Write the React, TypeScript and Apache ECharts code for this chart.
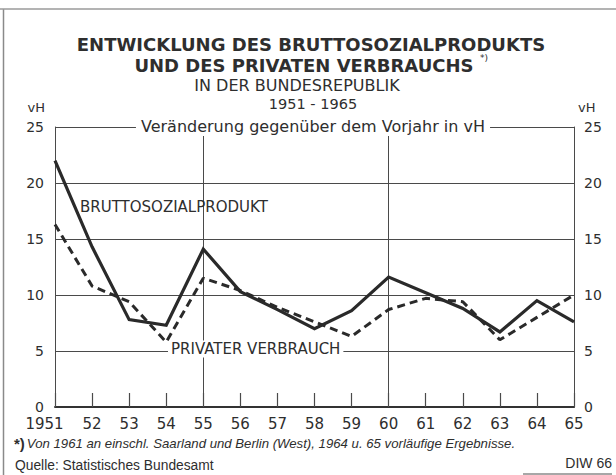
import React, { useEffect, useRef } from 'react';
import * as echarts from 'echarts';

const years = ['1951', '52', '53', '54', '55', '56', '57', '58', '59', '60', '61', '62', '63', '64', '65'];
const bruttosozialprodukt = [22.0, 14.3, 7.8, 7.3, 14.1, 10.3, 8.7, 7.0, 8.6, 11.6, 10.2, 8.8, 6.7, 9.5, 7.6];
const privaterVerbrauch = [16.3, 10.8, 9.4, 5.8, 11.5, 10.4, 8.9, 7.6, 6.3, 8.7, 9.7, 9.4, 6.0, 8.0, 10.0];
const yMin = 0;
const yMax = 25;
const yStep = 5;
const verticalGridYears = ['55', '60'];

const FONT = '"DejaVu Sans", sans-serif';
const FONT2 = '"Liberation Sans", Arial, sans-serif';
const INK = '#2e2e2e';
const GRID = '#4a4a4a';

export default function App() {
  const ref = useRef<HTMLDivElement>(null);
  useEffect(() => {
    const chart = echarts.init(ref.current!, null, { renderer: 'svg' });
    const txt = (text: string, x: number, y: number, size: number, extra: any = {}, z = 1) => ({
      type: 'text',
      z,
      style: {
        text,
        x,
        y,
        fill: INK,
        fontFamily: FONT,
        fontSize: size,
        textAlign: 'center',
        textVerticalAlign: 'middle',
        ...extra,
      },
    });
    chart.setOption({
      animation: false,
      backgroundColor: '#ffffff',
      textStyle: { fontFamily: FONT, color: INK },
      grid: { left: 55, right: 42, top: 127, bottom: 68, containLabel: false },
      xAxis: {
        type: 'category',
        data: years,
        boundaryGap: false,
        axisLine: { show: true, lineStyle: { color: '#333', width: 2 } },
        axisTick: { show: true, inside: true, length: 14, interval: 0, lineStyle: { color: GRID, width: 1.2 } },
        axisLabel: {
          interval: 0,
          hideOverlap: false,
          color: INK,
          fontSize: 15,
          fontFamily: FONT,
          margin: 9,
          formatter: (v: string, i: number) => (i === 0 ? '{f|' + v + '}' : v),
          rich: { f: { fontSize: 15, fontFamily: FONT, color: INK, padding: [0, 21, 0, 0] } },
        },
        splitLine: {
          show: true,
          interval: (i: number, v: string) => verticalGridYears.indexOf(String(v)) >= 0,
          lineStyle: { color: GRID, width: 1 },
        },
      },
      yAxis: [
        {
          type: 'value',
          min: yMin,
          max: yMax,
          interval: yStep,
          position: 'left',
          axisLine: { show: true, lineStyle: { color: GRID, width: 1 } },
          axisTick: { show: false },
          axisLabel: { color: INK, fontSize: 14, fontFamily: FONT, margin: 11 },
          splitLine: { show: true, lineStyle: { color: GRID, width: 1 } },
        },
        {
          type: 'value',
          min: yMin,
          max: yMax,
          interval: yStep,
          position: 'right',
          axisLine: { show: true, lineStyle: { color: GRID, width: 1 } },
          axisTick: { show: false },
          axisLabel: { color: INK, fontSize: 14, fontFamily: FONT, margin: 10 },
          splitLine: { show: false },
        },
      ],
      series: [
        {
          name: 'BRUTTOSOZIALPRODUKT',
          type: 'line',
          data: bruttosozialprodukt,
          symbol: 'none',
          z: 4,
          lineStyle: { color: '#2a2a2a', width: 3.2, join: 'miter' },
        },
        {
          name: 'PRIVATER VERBRAUCH',
          type: 'line',
          data: privaterVerbrauch,
          symbol: 'none',
          z: 3,
          lineStyle: { color: '#2a2a2a', width: 3, type: [8, 5] },
        },
      ],
      graphic: [
        { type: 'line', z: 1, shape: { x1: 3.5, y1: 9, x2: 3.5, y2: 475 }, style: { stroke: '#8a8a8a', lineWidth: 1.5 } },
        { type: 'line', z: 1, shape: { x1: 0, y1: 9, x2: 616, y2: 9 }, style: { stroke: '#9a9a9a', lineWidth: 1.5 } },
        { type: 'line', z: 1, shape: { x1: 523, y1: 474, x2: 612, y2: 474 }, style: { stroke: '#8a8a8a', lineWidth: 1.5 } },
        txt('ENTWICKLUNG DES BRUTTOSOZIALPRODUKTS', 311, 44, 18, { fontWeight: 'bold' }),
        txt('UND DES PRIVATEN VERBRAUCHS', 304, 65, 18, { fontWeight: 'bold' }),
        txt('*)', 480, 58, 9, { textAlign: 'left' }),
        txt('IN DER BUNDESREPUBLIK', 297, 85, 16),
        txt('1951 - 1965', 313, 104, 14.5),
        txt('Veränderung gegenüber dem Vorjahr in vH', 313, 126, 16, { backgroundColor: '#ffffff', padding: [2, 5] }),
        txt('vH', 45, 107, 13, { textAlign: 'right' }),
        txt('vH', 578, 107, 13, { textAlign: 'left' }),
        txt('BRUTTOSOZIALPRODUKT', 80, 207, 15, { textAlign: 'left' }),
        txt('PRIVATER VERBRAUCH', 168, 349, 15, { textAlign: 'left', backgroundColor: '#ffffff', padding: [1, 3] }),
        txt('{a|*)}{b|Von 1961 an einschl. Saarland und Berlin (West), 1964 u. 65 vorläufige Ergebnisse.}', 14, 443, 12, {
          textAlign: 'left',
          rich: {
            a: { fontFamily: FONT2, fontSize: 15, fontWeight: 'bold', fill: INK, padding: [0, 2, 0, 0] },
            b: { fontFamily: FONT2, fontSize: 13.2, fontStyle: 'italic', fill: INK },
          },
        }),
        txt('Quelle: Statistisches Bundesamt', 15, 465, 13.8, { textAlign: 'left', fontFamily: FONT2 }),
        txt('DIW 66', 612, 463, 14, { textAlign: 'right', fontFamily: FONT2 }),
      ],
    });
    return () => chart.dispose();
  }, []);
  return (
    <div
      ref={ref}
      style={{ position: 'fixed', left: 0, top: 0, width: 616, height: 475, background: '#ffffff' }}
    />
  );
}
